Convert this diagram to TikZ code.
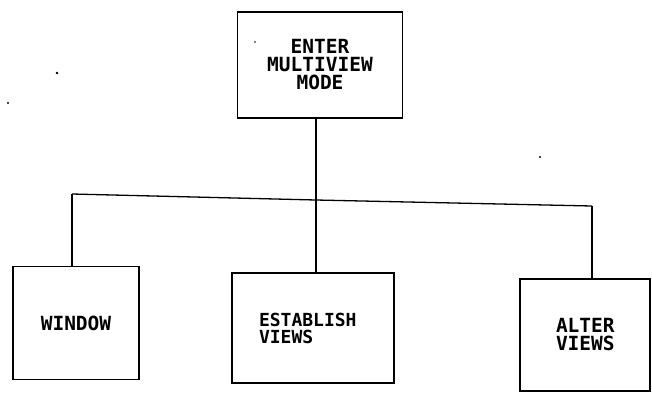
\documentclass[tikz,border=0pt]{standalone}
\usepackage{fontspec}
\setmonofont{DejaVu Sans Mono}
\begin{document}
\begin{tikzpicture}[x=1pt,y=-1pt,
  box/.style={draw=black,line width=1.4pt,rectangle,inner sep=0pt,
    font=\ttfamily\bfseries\fontsize{19.5}{18}\selectfont},
  link/.style={draw=black,line width=1.3pt},
  speck/.style={fill=black,draw=none}]
\useasboundingbox (0,0) rectangle (652,394);
\node[box,minimum width=165pt,minimum height=106pt,align=center] (enter) at (320,65) {ENTER\\MULTIVIEW\\MODE};
\node[box,minimum width=126pt,minimum height=113pt] (window) at (76,323) {WINDOW};
\node[box,minimum width=162pt,minimum height=110pt,text width=108pt,align=left,
  font=\ttfamily\bfseries\fontsize{18}{17}\selectfont] (establish) at (313,328) {ESTABLISH\\VIEWS};
\node[box,minimum width=130pt,minimum height=112pt,text width=58pt,align=left] (alter) at (585,335) {ALTER\\VIEWS};
\coordinate (cl) at (72,194);
\coordinate (cm) at (316,200);
\coordinate (cr) at (592,206);
\draw[link] (cl) -- (cm) -- (cr);
\draw[link] (enter.south -| cm) -- (cm);
\draw[link] (cl) -- (cl |- window.north);
\draw[link] (cm) -- (cm |- establish.north);
\draw[link] (cr) -- (cr |- alter.north);
\fill[speck] (57,73) circle (1.3pt);
\fill[speck] (8,103) circle (1.2pt);
\fill[speck] (540,157) circle (1.2pt);
\fill[speck] (255,42) circle (0.8pt);
\end{tikzpicture}
\end{document}
